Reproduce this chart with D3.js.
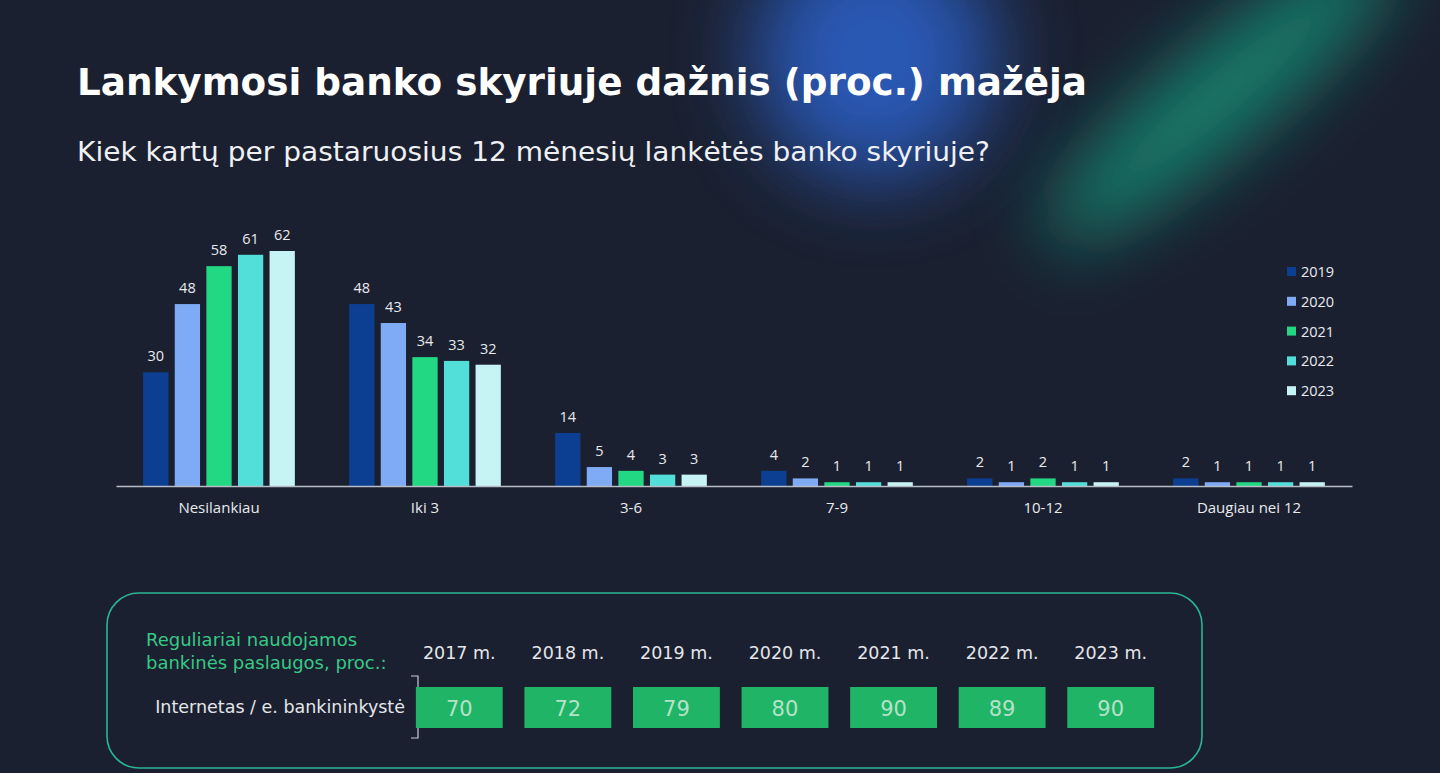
<!DOCTYPE html>
<html>
<head>
<meta charset="utf-8">
<script src="https://cdn.jsdelivr.net/npm/d3@7"></script>
<style>
  html, body { margin: 0; padding: 0; background: #1b2030; overflow: hidden; }
  svg { display: block; }
</style>
</head>
<body>
<div id="chart"></div>
<script>
// visit frequency, % of respondents
const categories = ['Nesilankiau', 'Iki 3', '3-6', '7-9', '10-12', 'Daugiau nei 12'];
const years = ['2019', '2020', '2021', '2022', '2023'];
const values2019 = [30, 48, 14, 4, 2, 2];
const values2020 = [48, 43, 5, 2, 1, 1];
const values2021 = [58, 34, 4, 1, 2, 1];
const values2022 = [61, 33, 3, 1, 1, 1];
const values2023 = [62, 32, 3, 1, 1, 1];
const seriesValues = [values2019, values2020, values2021, values2022, values2023];
const yearColors = ['#0c3f92', '#7faaf5', '#22d883', '#52dfd9', '#c6f4f4'];

// regularly used banking services, %
const bankYears = ['2017 m.', '2018 m.', '2019 m.', '2020 m.', '2021 m.', '2022 m.', '2023 m.'];
const bankValues = [70, 72, 79, 80, 90, 89, 90];

const W = 1440;
const H = 773;
const uiFont = '"DejaVu Sans", Verdana, sans-serif';
const chartFont = '"Open Sans", "Noto Sans", sans-serif';

const svg = d3.select('#chart').append('svg').attr('width', W).attr('height', H);

// background with soft glows
const defs = svg.append('defs');
defs.append('filter').attr('id', 'blurBig').attr('x', '-80%').attr('y', '-80%').attr('width', '260%').attr('height', '260%')
  .append('feGaussianBlur').attr('stdDeviation', 42);
defs.append('filter').attr('id', 'blurMid').attr('x', '-80%').attr('y', '-80%').attr('width', '260%').attr('height', '260%')
  .append('feGaussianBlur').attr('stdDeviation', 36);

svg.append('rect').attr('width', W).attr('height', H).attr('fill', '#1b2030');

svg.append('ellipse')
  .attr('cx', 875).attr('cy', 55).attr('rx', 120).attr('ry', 125)
  .attr('fill', '#2c5cbc').attr('opacity', 0.95).attr('filter', 'url(#blurBig)');

svg.append('ellipse')
  .attr('cx', 1220).attr('cy', 95).attr('rx', 225).attr('ry', 48)
  .attr('transform', 'rotate(-40,1220,95)')
  .attr('fill', '#17987b').attr('opacity', 0.8).attr('filter', 'url(#blurMid)');

// titles
svg.append('text')
  .attr('x', 77).attr('y', 95)
  .attr('font-family', uiFont).attr('font-weight', 'bold').attr('font-size', 38)
  .attr('textLength', 1010).attr('lengthAdjust', 'spacingAndGlyphs')
  .attr('fill', '#ffffff')
  .text('Lankymosi banko skyriuje dažnis (proc.) mažėja');

svg.append('text')
  .attr('x', 77).attr('y', 161)
  .attr('font-family', uiFont).attr('font-size', 26)
  .attr('textLength', 913).attr('lengthAdjust', 'spacingAndGlyphs')
  .attr('fill', '#eef0f4')
  .text('Kiek kartų per pastaruosius 12 mėnesių lankėtės banko skyriuje?');

// grouped bars
const x0 = d3.scaleBand().domain(categories).range([116, 1352]).paddingInner(0.233).paddingOuter(0.1165);
const x1 = d3.scaleBand().domain(years).range([0, x0.bandwidth()]).paddingInner(0.2).paddingOuter(0.1);
const y = d3.scaleLinear().domain([0, 62]).range([486, 251]);

const groups = svg.append('g').selectAll('g')
  .data(categories)
  .join('g')
  .attr('transform', d => `translate(${x0(d)},0)`);

const cells = groups.selectAll('g')
  .data((c, ci) => years.map((yr, yi) => ({ year: yr, value: seriesValues[yi][ci], color: yearColors[yi] })))
  .join('g');

cells.append('rect')
  .attr('x', d => x1(d.year))
  .attr('y', d => y(d.value))
  .attr('width', x1.bandwidth())
  .attr('height', d => y(0) - y(d.value))
  .attr('fill', d => d.color);

cells.append('text')
  .attr('x', d => x1(d.year) + x1.bandwidth() / 2)
  .attr('y', d => y(d.value) - 11)
  .attr('text-anchor', 'middle')
  .attr('font-family', chartFont).attr('font-size', 14.5)
  .attr('fill', '#e8eaee')
  .text(d => d.value);

const xAxis = svg.append('g')
  .attr('transform', `translate(0,${y(0)})`)
  .call(d3.axisBottom(x0).tickSize(0).tickPadding(16));
xAxis.select('.domain').attr('stroke', '#b8bcc6').attr('stroke-width', 1.5);
xAxis.selectAll('text')
  .attr('font-family', chartFont).attr('font-size', 15)
  .attr('fill', '#e8eaee');

// legend
const legend = svg.append('g').attr('transform', 'translate(1287,272)');
const legendRows = legend.selectAll('g')
  .data(years)
  .join('g')
  .attr('transform', (d, i) => `translate(0,${i * 29.8})`);
legendRows.append('rect')
  .attr('x', 0).attr('y', -5).attr('width', 9).attr('height', 9)
  .attr('fill', (d, i) => yearColors[i]);
legendRows.append('text')
  .attr('x', 14).attr('y', 5)
  .attr('font-family', chartFont).attr('font-size', 14.5)
  .attr('fill', '#e8eaee')
  .text(d => d);

// bottom panel
svg.append('rect')
  .attr('x', 107).attr('y', 593).attr('width', 1095).attr('height', 175)
  .attr('rx', 32).attr('ry', 32)
  .attr('fill', '#1b2030')
  .attr('stroke', '#2bb592').attr('stroke-width', 1.6);

const noteLines = ['Reguliariai naudojamos', 'bankinės paslaugos, proc.:'];
svg.append('g').selectAll('text')
  .data(noteLines)
  .join('text')
  .attr('x', 146).attr('y', (d, i) => 646 + i * 23)
  .attr('font-family', uiFont).attr('font-size', 18)
  .attr('fill', '#37c884')
  .text(d => d);

svg.append('text')
  .attr('x', 405).attr('y', 713)
  .attr('text-anchor', 'end')
  .attr('font-family', uiFont).attr('font-size', 17.5)
  .attr('fill', '#e4e6ea')
  .text('Internetas / e. bankininkystė');

svg.append('path')
  .attr('d', 'M411,676 H418 V738 H411')
  .attr('fill', 'none').attr('stroke', '#c8ccd4').attr('stroke-width', 1.2);

const xb = d3.scaleBand().domain(bankYears).range([405, 1165]).paddingInner(0.2).paddingOuter(0.1);
const bankCells = svg.append('g').selectAll('g')
  .data(bankYears)
  .join('g')
  .attr('transform', d => `translate(${xb(d)},0)`);

bankCells.append('text')
  .attr('x', xb.bandwidth() / 2).attr('y', 659)
  .attr('text-anchor', 'middle')
  .attr('font-family', uiFont).attr('font-size', 17.5)
  .attr('fill', '#e4e6ea')
  .text(d => d);

bankCells.append('rect')
  .attr('x', 0).attr('y', 687)
  .attr('width', xb.bandwidth()).attr('height', 41)
  .attr('fill', '#20b566');

bankCells.append('text')
  .attr('x', xb.bandwidth() / 2).attr('y', 716)
  .attr('text-anchor', 'middle')
  .attr('font-family', uiFont).attr('font-size', 21)
  .attr('fill', '#b4e2c8')
  .text((d, i) => bankValues[i]);
</script>
</body>
</html>
